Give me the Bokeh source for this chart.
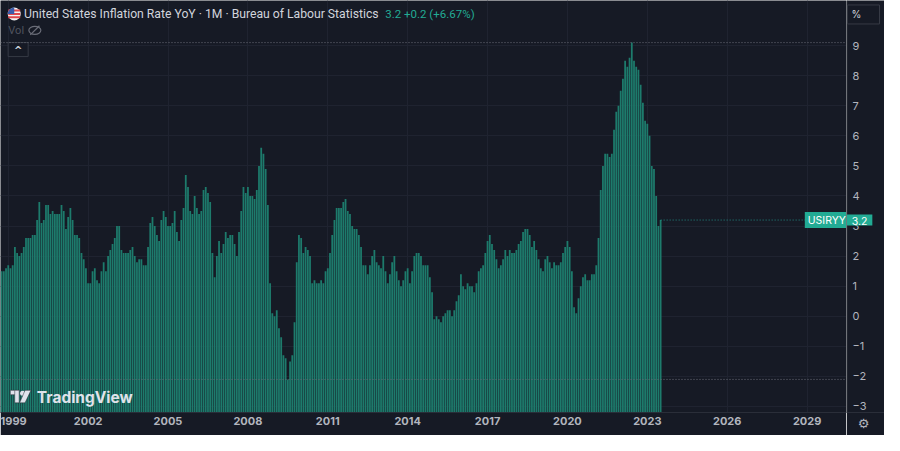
import math
from bokeh.plotting import figure
from bokeh.layouts import row
from bokeh.models import (Range1d, FixedTicker, Span, Label)
from bokeh.core.properties import value
from bokeh.embed import file_html
from bokeh.resources import INLINE

# ---------------- data (US CPI YoY, %, monthly) ----------------
start_year, start_month = 1998, 9
cpi_1998 = [1.5, 1.5, 1.5, 1.6]  # Sep-Dec
cpi_1999 = [1.7, 1.6, 1.7, 2.3, 2.1, 2.0, 2.1, 2.3, 2.6, 2.6, 2.6, 2.7]
cpi_2000 = [2.7, 3.2, 3.8, 3.1, 3.2, 3.7, 3.7, 3.4, 3.5, 3.4, 3.4, 3.4]
cpi_2001 = [3.7, 3.5, 2.9, 3.3, 3.6, 3.2, 2.7, 2.7, 2.6, 2.1, 1.9, 1.6]
cpi_2002 = [1.1, 1.1, 1.5, 1.6, 1.2, 1.1, 1.5, 1.8, 1.5, 2.0, 2.2, 2.4]
cpi_2003 = [2.6, 3.0, 3.0, 2.2, 2.1, 2.1, 2.1, 2.2, 2.3, 2.0, 1.8, 1.9]
cpi_2004 = [1.9, 1.7, 1.7, 2.3, 3.1, 3.3, 3.0, 2.7, 2.5, 3.2, 3.5, 3.3]
cpi_2005 = [3.0, 3.0, 3.1, 3.5, 2.8, 2.5, 3.2, 3.6, 4.7, 4.3, 3.5, 3.4]
cpi_2006 = [4.0, 3.6, 3.4, 3.5, 4.2, 4.3, 4.1, 3.8, 2.1, 1.3, 2.0, 2.5]
cpi_2007 = [2.1, 2.4, 2.8, 2.6, 2.7, 2.7, 2.4, 2.0, 2.8, 3.5, 4.3, 4.1]
cpi_2008 = [4.3, 4.0, 4.0, 3.9, 4.2, 5.0, 5.6, 5.4, 4.9, 3.7, 1.1, 0.1]
cpi_2009 = [0.0, 0.2, -0.4, -0.7, -1.3, -1.4, -2.1, -1.5, -1.3, -0.2, 1.8, 2.7]
cpi_2010 = [2.6, 2.1, 2.3, 2.2, 2.0, 1.1, 1.2, 1.1, 1.1, 1.2, 1.1, 1.5]
cpi_2011 = [1.6, 2.1, 2.7, 3.2, 3.6, 3.6, 3.6, 3.8, 3.9, 3.5, 3.4, 3.0]
cpi_2012 = [2.9, 2.9, 2.7, 2.3, 1.7, 1.7, 1.4, 1.7, 2.0, 2.2, 1.8, 1.7]
cpi_2013 = [1.6, 2.0, 1.5, 1.1, 1.4, 1.8, 2.0, 1.5, 1.2, 1.0, 1.2, 1.5]
cpi_2014 = [1.6, 1.1, 1.5, 2.0, 2.1, 2.1, 2.0, 1.7, 1.7, 1.7, 1.3, 0.8]
cpi_2015 = [-0.1, 0.0, -0.1, -0.2, 0.0, 0.1, 0.2, 0.2, 0.0, 0.2, 0.5, 0.7]
cpi_2016 = [1.4, 1.0, 0.9, 1.1, 1.0, 1.0, 0.8, 1.1, 1.5, 1.6, 1.7, 2.1]
cpi_2017 = [2.5, 2.7, 2.4, 2.2, 1.9, 1.6, 1.7, 1.9, 2.2, 2.0, 2.2, 2.1]
cpi_2018 = [2.1, 2.2, 2.4, 2.5, 2.8, 2.9, 2.9, 2.7, 2.3, 2.5, 2.2, 1.9]
cpi_2019 = [1.6, 1.5, 1.9, 2.0, 1.8, 1.6, 1.8, 1.7, 1.7, 1.8, 2.1, 2.3]
cpi_2020 = [2.5, 2.3, 1.5, 0.3, 0.1, 0.6, 1.0, 1.3, 1.4, 1.2, 1.2, 1.4]
cpi_2021 = [1.4, 1.7, 2.6, 4.2, 5.0, 5.4, 5.4, 5.3, 5.4, 6.2, 6.8, 7.0]
cpi_2022 = [7.5, 7.9, 8.5, 8.3, 8.6, 9.1, 8.5, 8.3, 8.2, 7.7, 7.1, 6.5]
cpi_2023 = [6.4, 6.0, 5.0, 4.9, 4.0, 3.0, 3.2]  # Jan-Jul

x_tick_years = [1999, 2002, 2005, 2008, 2011, 2014, 2017, 2020, 2023, 2026, 2029]
y_ticks = [-3, -2, -1, 0, 1, 2, 3, 4, 5, 6, 7, 8, 9]
y_tick_labels = ["\u22123", "\u22122", "\u22121", "0", "1", "2", "3", "4", "5", "6", "7", "8", "9"]

values = (cpi_1998 + cpi_1999 + cpi_2000 + cpi_2001 + cpi_2002 + cpi_2003 + cpi_2004 +
          cpi_2005 + cpi_2006 + cpi_2007 + cpi_2008 + cpi_2009 + cpi_2010 + cpi_2011 +
          cpi_2012 + cpi_2013 + cpi_2014 + cpi_2015 + cpi_2016 + cpi_2017 + cpi_2018 +
          cpi_2019 + cpi_2020 + cpi_2021 + cpi_2022 + cpi_2023)
dates = [start_year + (start_month - 1 + i) / 12.0 for i in range(len(values))]

# ---------------- geometry ----------------
BG = "#161a25"
TEAL = "#22ab94"
AXIS_LINE = "#2a2e39"
X0, X1 = 1998.709, 2030.48
Y0, Y1 = -3.2, 10.5
REF_W, REF_H = 862.0, 428.0
MAIN_W, AX_W = 846, 38
FIG_H, XAX_H = 435, 23

def dx(px):
    return X0 + px / REF_W * (X1 - X0)

def dy(py):
    return Y1 - py / REF_H * (Y1 - Y0)

# ---------------- main chart ----------------
p = figure(width=MAIN_W, height=FIG_H, output_backend="svg", toolbar_location=None,
           x_range=Range1d(X0, X1), y_range=Range1d(Y0, Y1),
           y_axis_location=None, min_border_left=0, min_border_top=0,
           min_border_right=0, min_border_bottom=XAX_H)
p.background_fill_color = BG
p.border_fill_color = BG
p.outline_line_color = None

p.xaxis.ticker = FixedTicker(ticks=x_tick_years)
p.xaxis.axis_line_color = AXIS_LINE
p.xaxis.major_tick_line_color = None
p.xaxis.minor_tick_line_color = None
p.xaxis.major_tick_out = 0
p.xaxis.major_label_text_color = "#b2b5be"
p.xaxis.major_label_text_font = "Inter"
p.xaxis.major_label_text_font_size = "11px"
p.xaxis.major_label_text_font_style = "bold"
p.xaxis.major_label_standoff = 4

p.xgrid.grid_line_color = "#1f2330"
p.ygrid.ticker = FixedTicker(ticks=y_ticks)
p.ygrid.grid_line_color = "#1f2330"

# bars
p.vbar(x=dates, top=values, bottom=Y0 - 5, width=0.8 / 12,
       fill_color="#1d7b6c", line_color=None)

# max / min dotted lines
p.add_layout(Span(location=max(values), dimension="width", line_color="#6a6d78",
                  line_dash="1 2", line_width=1))
p.add_layout(Span(location=min(values), dimension="width", line_color="#6a6d78",
                  line_dash="1 2", line_width=1))
# last value dotted line
p.segment(x0=[dates[-1]], y0=[values[-1]], x1=[X1], y1=[values[-1]],
          line_color="#26a69a", line_dash="1 2", line_width=1, line_alpha=0.8)

# header: flag
fx, fy = dx(14), dy(14)
p.scatter([fx], [fy], marker="circle", size=13, fill_color="#f3f3f3", line_color=None)
p.scatter([fx, fx, fx], [dy(10.5), dy(14), dy(17.5)], marker="dash", size=12,
          line_color="#e0474c", line_width=2)
p.wedge(x=[fx], y=[fy], radius=6.5, radius_units="screen", start_angle=math.pi / 2,
        end_angle=math.pi, fill_color="#3b5cab", line_color=None)

p.add_layout(Label(x=dx(24), y=dy(14),
                   text="United States Inflation Rate YoY \u00b7 1M \u00b7 Bureau of Labour Statistics",
                   text_font="Roboto", text_font_size="12.2px", text_color="#d1d4dc",
                   text_baseline="middle"))
p.add_layout(Label(x=dx(392), y=dy(14), text="3.2  +0.2  (+6.67%)",
                   text_font="Roboto", text_font_size="11.5px", text_color=TEAL,
                   text_baseline="middle"))
p.add_layout(Label(x=dx(8), y=dy(31), text="Vol", text_font="Roboto",
                   text_font_size="11px", text_color="#50535e", text_baseline="middle"))
ex, ey = dx(35), dy(31)
p.ellipse(x=[ex], y=[ey], width=12, height=8, width_units="screen", height_units="screen",
          fill_alpha=0, line_color="#6a6d78", line_width=1.2)
p.scatter([ex], [ey], marker="dash", size=13, angle=math.pi / 4, line_color="#6a6d78",
          line_width=1.2)
p.rect(x=[dx(18)], y=[dy(51)], width=20, height=14, width_units="screen",
       height_units="screen", fill_color=BG, line_color="#363a45", line_width=1)
p.add_layout(Label(x=dx(18), y=dy(52), text="^", text_font="DejaVu Sans",
                   text_font_size="10px", text_color="#d1d4dc", text_font_style="bold",
                   text_align="center", text_baseline="middle"))

# TradingView logo
p.quad(left=[dx(10), dx(14.5)], right=[dx(19), dx(19)], top=[dy(405), dy(405)],
       bottom=[dy(409.5), dy(418)], fill_color="#e0e3eb", line_color="#2a2e39",
       line_width=0.5)
p.scatter([dx(22.5)], [dy(408)], marker="circle", size=5, fill_color="#e0e3eb",
          line_color=None)
p.patch(x=[dx(25), dx(31), dx(25), dx(19.5)], y=[dy(405), dy(405), dy(418), dy(418)],
        fill_color="#e0e3eb", line_color="#2a2e39", line_width=0.5)
p.add_layout(Label(x=dx(37), y=dy(412), text="TradingView", text_font="Inter",
                   text_font_size="15.5px", text_font_style="bold", text_color="#e0e3eb",
                   text_baseline="middle"))

# series name tag at the right edge
p.add_layout(Label(x=dx(842), y=values[-1], text="USIRYY", text_font="Inter",
                   text_font_size="10.5px", text_color="#ffffff", text_align="center",
                   text_baseline="middle", background_fill_color=TEAL,
                   padding=dict(left=3, right=3, top=2, bottom=1)))

# ---------------- price axis strip ----------------
a = figure(width=AX_W, height=FIG_H, output_backend="svg", toolbar_location=None,
           x_range=Range1d(0, AX_W), y_range=p.y_range,
           y_axis_location=None, min_border_left=0, min_border_top=0,
           min_border_right=0, min_border_bottom=XAX_H)
a.background_fill_color = BG
a.border_fill_color = BG
a.outline_line_color = None
a.grid.visible = False
a.xaxis.ticker = FixedTicker(ticks=[17])
a.xaxis.major_label_overrides = {17: "\u2699"}
a.xaxis.axis_line_color = AXIS_LINE
a.xaxis.major_tick_line_color = None
a.xaxis.minor_tick_line_color = None
a.xaxis.major_tick_out = 0
a.xaxis.major_label_text_color = "#b2b5be"
a.xaxis.major_label_text_font = "DejaVu Sans"
a.xaxis.major_label_text_font_size = "13px"
a.xaxis.major_label_standoff = 3

a.add_layout(Span(location=0.5, dimension="height", line_color=AXIS_LINE, line_width=1))
a.text(x=[6] * len(y_ticks), y=y_ticks, text=y_tick_labels, text_font=value("Inter"),
       text_font_size="11px", text_color="#b2b5be", text_baseline="middle",
       text_align="left")

# last value tag
a.add_layout(Label(x=13, y=values[-1], text="3.2", text_font="Inter",
                   text_font_size="10.5px", text_color="#ffffff", text_align="center",
                   text_baseline="middle", background_fill_color=TEAL,
                   padding=dict(left=5, right=5, top=2, bottom=1)))
# "%" button
a.rect(x=[17], y=[dy(14.5)], width=32, height=19, width_units="screen",
       height_units="screen", fill_color=BG, line_color="#363a45", line_width=1)
a.add_layout(Label(x=5, y=dy(14.5), text="%", text_font="Inter",
                   text_font_size="10px", text_color="#d1d4dc", text_align="left",
                   text_baseline="middle"))

layout = row(p, a, spacing=0)
open("out.html", "w").write(file_html(layout, INLINE))
